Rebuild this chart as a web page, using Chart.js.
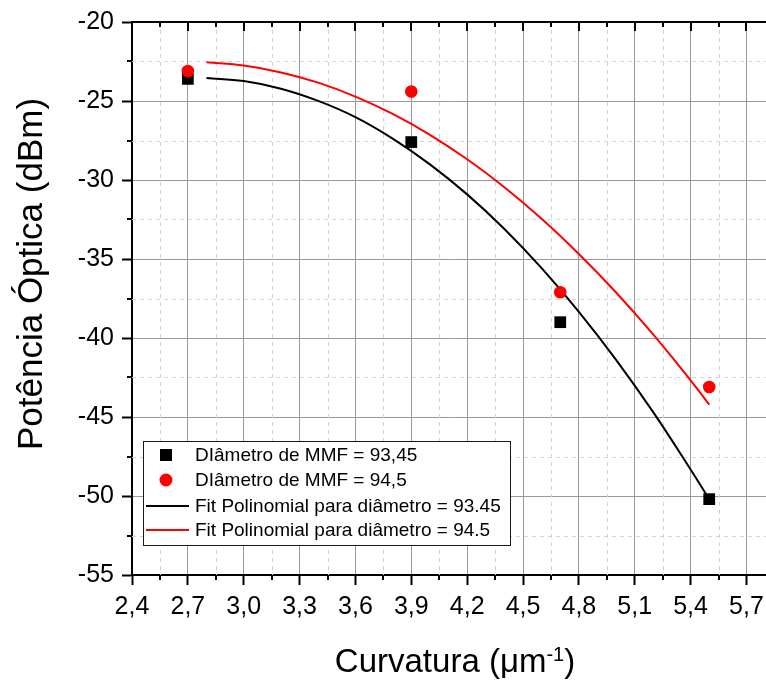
<!DOCTYPE html>
<html>
<head>
<meta charset="utf-8">
<script src="https://cdn.jsdelivr.net/npm/chart.js@4.4.1/dist/chart.umd.min.js"></script>
<style>
  html, body { margin: 0; padding: 0; background: #fff; overflow: hidden; }
  #wrap { width: 766px; height: 684px; }
</style>
</head>
<body>
<div id="wrap"><canvas id="c" width="766" height="684"></canvas></div>
<script>
// Measured points (curvature in µm^-1, optical power in dBm)
const curvatura = [2.7, 3.9, 4.7, 5.5];
const potencia9345 = [-23.6, -27.6, -39.0, -50.2];
const potencia945 = [-23.1, -24.4, -37.1, -43.1];

// Polynomial fit curves, sampled along the fitted range
const fitX = [2.8, 3.0, 3.2, 3.4, 3.6, 3.8, 4.0, 4.2, 4.4, 4.6, 4.8, 5.0, 5.2, 5.4, 5.5];
const fit9345 = [-23.54, -23.74, -24.22, -24.99, -26.02, -27.38, -29.01, -30.91, -33.1, -35.58, -38.34, -41.38, -44.71, -48.32, -50.2];
const fit945 = [-22.55, -22.76, -23.19, -23.84, -24.72, -25.82, -27.14, -28.69, -30.46, -32.46, -34.68, -37.12, -39.79, -42.68, -44.21];

// Axis ticks
const xMajorTicks = [2.4, 2.7, 3.0, 3.3, 3.6, 3.9, 4.2, 4.5, 4.8, 5.1, 5.4, 5.7];
const xMinorTicks = [2.55, 2.85, 3.15, 3.45, 3.75, 4.05, 4.35, 4.65, 4.95, 5.25, 5.55];
const yMajorTicks = [-55, -50, -45, -40, -35, -30, -25, -20];
const yMinorTicks = [-52.5, -47.5, -42.5, -37.5, -32.5, -27.5, -22.5];

// Texts
const xTitle = 'Curvatura (\u03bcm';
const xTitleSup = '-1';
const yTitle = 'Pot\u00eancia \u00d3ptica (dBm)';
const seriesLabels = [
  'DI\u00e2metro de MMF = 93,45',
  'DI\u00e2metro de MMF = 94,5',
  'Fit Polinomial para di\u00e2metro = 93.45',
  'Fit Polinomial para di\u00e2metro = 94.5'
];

const FONT = '"Liberation Sans", Arial, sans-serif';
const toXY = (xs, ys) => xs.map((x, i) => ({ x: x, y: ys[i] }));

// Frame, minor grid/ticks, axis titles and legend box
const decor = {
  id: 'decor',
  beforeDatasetsDraw(chart) {
    const { ctx, chartArea: a, scales: { x, y } } = chart;
    ctx.save();
    ctx.strokeStyle = '#d4d4d4';
    ctx.lineWidth = 1;
    ctx.setLineDash([4, 4]);
    xMinorTicks.forEach(v => {
      const px = Math.round(x.getPixelForValue(v)) + 0.5;
      ctx.beginPath(); ctx.moveTo(px, a.top); ctx.lineTo(px, a.bottom); ctx.stroke();
    });
    yMinorTicks.forEach(v => {
      const py = Math.round(y.getPixelForValue(v)) + 0.5;
      ctx.beginPath(); ctx.moveTo(a.left, py); ctx.lineTo(a.right, py); ctx.stroke();
    });
    ctx.restore();
  },
  afterDraw(chart) {
    const { ctx, chartArea: a, scales: { x, y } } = chart;
    ctx.save();
    ctx.strokeStyle = '#000';
    ctx.lineWidth = 2;
    // top axis line
    ctx.beginPath(); ctx.moveTo(a.left - 1, a.top); ctx.lineTo(a.right, a.top); ctx.stroke();
    // top axis inward ticks
    xMajorTicks.forEach(v => {
      const px = Math.round(x.getPixelForValue(v));
      ctx.beginPath(); ctx.moveTo(px, a.top); ctx.lineTo(px, a.top + 9); ctx.stroke();
    });
    xMinorTicks.forEach(v => {
      const px = Math.round(x.getPixelForValue(v));
      ctx.beginPath(); ctx.moveTo(px, a.top); ctx.lineTo(px, a.top + 5); ctx.stroke();
      // bottom minor ticks, outward
      ctx.beginPath(); ctx.moveTo(px, a.bottom); ctx.lineTo(px, a.bottom + 5); ctx.stroke();
    });
    yMinorTicks.forEach(v => {
      const py = Math.round(y.getPixelForValue(v));
      ctx.beginPath(); ctx.moveTo(a.left, py); ctx.lineTo(a.left - 5, py); ctx.stroke();
    });

    // axis titles
    ctx.fillStyle = '#000';
    ctx.textBaseline = 'alphabetic';
    ctx.font = '35px ' + FONT;
    ctx.save();
    ctx.translate(42, 274);
    ctx.rotate(-Math.PI / 2);
    ctx.textAlign = 'center';
    ctx.fillText(yTitle, 0, 0);
    ctx.restore();

    const mainFont = '33px ' + FONT, supFont = '20px ' + FONT;
    ctx.font = mainFont; const w1 = ctx.measureText(xTitle).width; const w3 = ctx.measureText(')').width;
    ctx.font = supFont; const w2 = ctx.measureText(xTitleSup).width;
    let tx = 455 - (w1 + w2 + w3) / 2;
    const base = 672;
    ctx.textAlign = 'left';
    ctx.font = mainFont; ctx.fillText(xTitle, tx, base); tx += w1;
    ctx.font = supFont; ctx.fillText(xTitleSup, tx, base - 11); tx += w2;
    ctx.font = mainFont; ctx.fillText(')', tx, base);

    // legend
    const bx = 143, by = 441, bw = 367, bh = 104;
    ctx.fillStyle = '#fff';
    ctx.fillRect(bx, by, bw, bh);
    ctx.strokeStyle = '#1a1a1a';
    ctx.lineWidth = 1;
    ctx.strokeRect(bx + 0.5, by + 0.5, bw, bh);
    const rows = [455, 480, 506, 530];
    const ds = chart.data.datasets;
    const order = [1, 0, 2, 3]; // legend rows: squares, circles, black fit, red fit
    ctx.font = '19px ' + FONT;
    ctx.textBaseline = 'middle';
    rows.forEach((ry, i) => {
      const d = ds[order[i]];
      if (d.showLine) {
        ctx.strokeStyle = d.borderColor;
        ctx.lineWidth = 2;
        ctx.beginPath(); ctx.moveTo(146, ry); ctx.lineTo(189, ry); ctx.stroke();
      } else if (d.pointStyle === 'rect') {
        ctx.fillStyle = d.backgroundColor;
        ctx.fillRect(160, ry - 6, 12, 12);
      } else {
        ctx.fillStyle = d.backgroundColor;
        ctx.beginPath(); ctx.arc(166, ry, 6.5, 0, Math.PI * 2); ctx.fill();
      }
      ctx.fillStyle = '#000';
      ctx.fillText(d.label, 195, ry + 1);
    });
    ctx.restore();
  }
};

new Chart(document.getElementById('c'), {
  type: 'scatter',
  data: {
    datasets: [
      {
        label: seriesLabels[1],
        data: toXY(curvatura, potencia945),
        pointStyle: 'circle',
        pointRadius: 6.3,
        pointHoverRadius: 6.3,
        backgroundColor: '#ff0000',
        borderColor: '#ff0000',
        borderWidth: 0,
        order: 0
      },
      {
        label: seriesLabels[0],
        data: toXY(curvatura, potencia9345),
        pointStyle: 'rect',
        pointRadius: 8.3,
        pointHoverRadius: 8.3,
        backgroundColor: '#000000',
        borderColor: '#000000',
        borderWidth: 0,
        order: 1
      },
      {
        label: seriesLabels[2],
        data: toXY(fitX, fit9345),
        showLine: true,
        pointRadius: 0,
        borderColor: '#000000',
        backgroundColor: '#000000',
        borderWidth: 2,
        tension: 0.4,
        order: 2
      },
      {
        label: seriesLabels[3],
        data: toXY(fitX, fit945),
        showLine: true,
        pointRadius: 0,
        borderColor: '#ff0000',
        backgroundColor: '#ff0000',
        borderWidth: 2,
        tension: 0.4,
        order: 3
      }
    ]
  },
  options: {
    responsive: false,
    animation: false,
    devicePixelRatio: 1,
    layout: { autoPadding: false, padding: { top: 22, right: 0, bottom: 0, left: 0 } },
    plugins: { legend: { display: false }, tooltip: { enabled: false } },
    scales: {
      x: {
        type: 'linear',
        min: 2.4,
        max: 5.805,
        afterBuildTicks: s => { s.ticks = xMajorTicks.map(v => ({ value: v })); },
        afterFit: s => { s.height = 109; s.paddingLeft = 0; s.paddingRight = 0; },
        ticks: {
          autoSkip: false,
          maxRotation: 0,
          padding: 7,
          color: '#000',
          font: { family: FONT, size: 25 },
          callback: v => Number(v).toFixed(1).replace('.', ',')
        },
        grid: { color: '#9a9a9a', lineWidth: 1, drawTicks: true, tickLength: 10, tickWidth: 2, tickColor: '#000' },
        border: { display: true, color: '#000', width: 2 }
      },
      y: {
        type: 'linear',
        min: -55,
        max: -20,
        afterBuildTicks: s => { s.ticks = yMajorTicks.map(v => ({ value: v })); },
        afterFit: s => { s.width = 132; s.paddingTop = 0; s.paddingBottom = 0; },
        ticks: {
          autoSkip: false,
          padding: 8,
          color: '#000',
          font: { family: FONT, size: 25 },
          callback: v => String(v)
        },
        grid: { color: '#9a9a9a', lineWidth: 1, drawTicks: true, tickLength: 10, tickWidth: 2, tickColor: '#000' },
        border: { display: true, color: '#000', width: 2 }
      }
    }
  },
  plugins: [decor]
});
</script>
</body>
</html>
